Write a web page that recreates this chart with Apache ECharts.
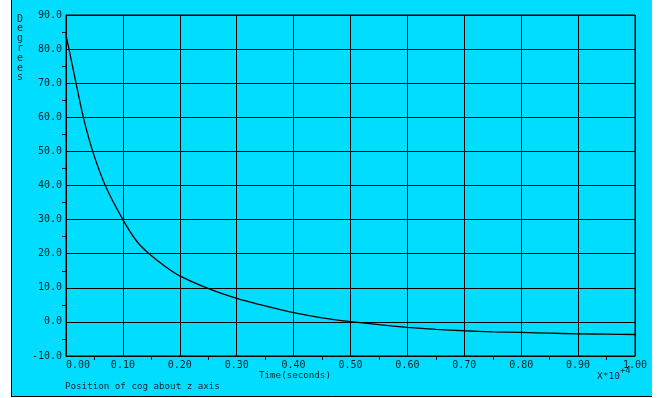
<!DOCTYPE html>
<html>
<head>
<meta charset="utf-8">
<script src="https://cdn.jsdelivr.net/npm/echarts@6/dist/echarts.min.js"></script>
<style>
    html, body { margin: 0; padding: 0; background: #fff; }
    #main { width: 659px; height: 398px; }
</style>
</head>
<body>
<div id="main"></div>
<script>
// time (x 10^4 s) and angle (degrees)
var times = [0, 0.0053, 0.0176, 0.0305, 0.047, 0.069, 0.10, 0.125, 0.146, 0.175, 0.20, 0.247,
    0.30, 0.35, 0.40, 0.45, 0.50, 0.55, 0.60, 0.65, 0.70, 0.75, 0.80, 0.85, 0.90, 0.95, 1.00];
var degrees = [84, 80, 70, 60, 50, 40, 30, 23.5, 20, 16.2, 13.5, 10,
    6.9, 4.7, 2.7, 1.2, 0.1, -0.8, -1.6, -2.2, -2.6, -2.9, -3.1, -3.3, -3.5, -3.6, -3.7];
var yTicks = [-10, 0, 10, 20, 30, 40, 50, 60, 70, 80, 90];
var xTicks = [0, 0.1, 0.2, 0.3, 0.4, 0.5, 0.6, 0.7, 0.8, 0.9, 1.0];

var FONT = '"DejaVu Sans Mono", "Liberation Mono", monospace';
var INK = '#0a2228';

var chart = echarts.init(document.getElementById('main'));

var option = {
    backgroundColor: '#00ddff',
    animation: false,
    grid: {
        left: 66,
        top: 15,
        width: 569,
        height: 341,
        show: true,
        borderColor: '#000',
        borderWidth: 1,
        backgroundColor: 'transparent'
    },
    xAxis: {
        type: 'value',
        min: xTicks[0],
        max: xTicks[xTicks.length - 1],
        interval: 0.1,
        axisLine: { show: true, onZero: false, lineStyle: { color: '#000', width: 1 } },
        axisTick: { show: false },
        minorTick: { show: true, splitNumber: 2, length: 4, lineStyle: { color: '#000' } },
        splitLine: { show: true, lineStyle: { color: '#000', width: 1 } },
        axisLabel: {
            margin: 4,
            color: INK,
            fontFamily: FONT,
            fontSize: 10,
            alignMinLabel: 'left',
            formatter: function (v) { return v.toFixed(2); }
        }
    },
    yAxis: {
        type: 'value',
        min: yTicks[0],
        max: yTicks[yTicks.length - 1],
        interval: 10,
        axisLine: { show: true, lineStyle: { color: '#000', width: 1 } },
        axisTick: { show: false },
        minorTick: { show: true, splitNumber: 2, length: 4, lineStyle: { color: '#000' } },
        splitLine: { show: true, lineStyle: { color: '#000', width: 1 } },
        axisLabel: {
            margin: 4,
            color: INK,
            fontFamily: FONT,
            fontSize: 10,
            formatter: function (v) { return v.toFixed(1); }
        }
    },
    graphic: [
        // white margins and frame edges
        { type: 'rect', left: 0, top: 0, shape: { width: 11, height: 398 }, style: { fill: '#fff' } },
        { type: 'rect', left: 652, top: 0, shape: { width: 7, height: 398 }, style: { fill: '#fff' } },
        { type: 'rect', left: 0, top: 397, shape: { width: 659, height: 1 }, style: { fill: '#fff' } },
        { type: 'line', shape: { x1: 11.5, y1: 0, x2: 11.5, y2: 397 }, style: { stroke: '#000', lineWidth: 1 } },
        { type: 'line', shape: { x1: 11, y1: 396.5, x2: 652, y2: 396.5 }, style: { stroke: '#000', lineWidth: 1 } },
        {
            type: 'text', left: 17, top: 14,
            style: {
                text: 'D\ne\ng\nr\ne\ne\ns', fill: INK, font: '10px ' + FONT, lineHeight: 9.8
            }
        },
        {
            type: 'text', left: 259, top: 371,
            style: { text: 'Time(seconds)', fill: INK, font: '9.2px ' + FONT }
        },
        {
            type: 'text', left: 597, top: 366,
            style: {
                text: '{b|X*10}{s|+4}',
                rich: {
                    b: { fill: INK, fontFamily: FONT, fontSize: 9.5, padding: [8, 0, 0, 0] },
                    s: { fill: INK, fontFamily: FONT, fontSize: 9, padding: [0, 0, 4, 0] }
                }
            }
        },
        {
            type: 'text', left: 65, top: 382,
            style: { text: 'Position of cog about z axis', fill: INK, font: '9.2px ' + FONT }
        }
    ],
    series: [{
        type: 'line',
        data: times.map(function (t, i) { return [t, degrees[i]]; }),
        showSymbol: false,
        smooth: 0.2,
        lineStyle: { color: '#000', width: 1.3 },
        z: 5
    }]
};

chart.setOption(option);
</script>
</body>
</html>
